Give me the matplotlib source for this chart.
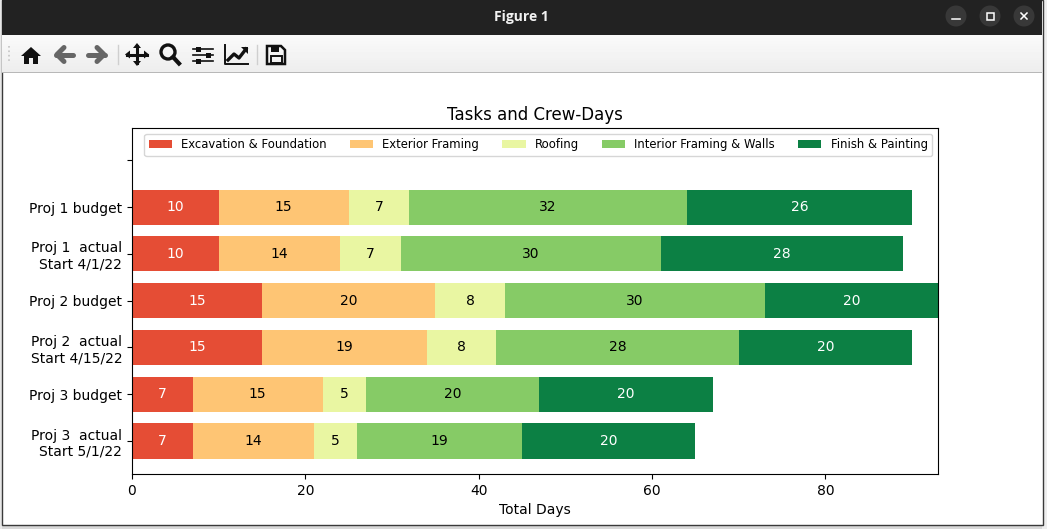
import matplotlib
matplotlib.use("Agg")
import matplotlib.pyplot as plt
from matplotlib.patches import Rectangle, Circle, Polygon
import numpy as np

labels = ["", "Proj 1 budget", "Proj 1  actual\nStart 4/1/22", "Proj 2 budget",
          "Proj 2  actual\nStart 4/15/22", "Proj 3 budget", "Proj 3  actual\nStart 5/1/22"]
excavation = [0, 10, 10, 15, 15, 7, 7]
framing = [0, 15, 14, 20, 19, 15, 14]
roofing = [0, 7, 7, 8, 8, 5, 5]
interior = [0, 32, 30, 30, 28, 20, 19]
finish = [0, 26, 28, 20, 20, 20, 20]
series_names = ["Excavation & Foundation", "Exterior Framing", "Roofing",
                "Interior Framing & Walls", "Finish & Painting"]
series_values = [excavation, framing, roofing, interior, finish]
colors = ["#e54d35", "#fec574", "#e9f6a2", "#86cb66", "#0c8044"]
text_colors = ["white", "black", "black", "black", "white"]

W, H = 1047, 529
fig = plt.figure(figsize=(W / 100, H / 100), dpi=100, facecolor="white")

# window chrome, in pixel coordinates
c = fig.add_axes([0, 0, 1, 1], zorder=-1)
c.set_xlim(0, W); c.set_ylim(H, 0); c.axis("off")
c.add_patch(Rectangle((0, 524), W, 5, fc="#d8d8d8", ec="none"))
c.add_patch(Rectangle((1042, 0), 5, H, fc="#eeeeee", ec="none"))
c.add_patch(Rectangle((0, 0), 1.5, H, fc="#e8e8e8", ec="none"))
c.add_patch(Rectangle((1.5, 0), 1041, 524.5, fc="white", ec="#3a3a3a", lw=1))
c.imshow(np.linspace(0.98, 0.93, 37).reshape(-1, 1), cmap="gray", vmin=0, vmax=1,
         extent=(2, 1042, 72, 35), aspect="auto", zorder=1)
c.set_xlim(0, W); c.set_ylim(H, 0)
c.add_patch(Rectangle((2, 71.5), 1040, 1.2, fc="#b8b8b8", ec="none", zorder=2))
c.add_patch(Rectangle((2, 0), 1040, 35, fc="#222222", ec="none", zorder=2))
c.text(521, 17.5, "Figure 1", color="#f2f2f2", fontsize=10, fontweight="bold",
       family="Open Sans", ha="center", va="center", zorder=3)
for cx in (956, 990, 1024):
    c.add_patch(Circle((cx, 16), 10.5, fc="#383838", ec="none", zorder=3))
c.plot([952, 960], [19, 19], color="white", lw=1.1, zorder=4)
c.add_patch(Rectangle((986.5, 12.5), 7, 7, fc="none", ec="white", lw=1.1, zorder=4))
c.plot([1021, 1027], [13, 19], color="white", lw=1.1, zorder=4)
c.plot([1021, 1027], [19, 13], color="white", lw=1.1, zorder=4)

# toolbar icons
K = "#111111"; G = "#666666"
kw = dict(zorder=4)
c.add_patch(Polygon([(21, 56), (31, 47), (41, 56), (38, 56), (38, 64), (33, 64), (33, 58),
                     (29, 58), (29, 64), (24, 64), (24, 56)], fc=K, ec="none", **kw))
c.plot([56, 73], [54.5, 54.5], color=G, lw=3.6, solid_capstyle="round", **kw)
c.plot([64, 57, 64], [47.5, 54.5, 61.5], color=G, lw=3.6, solid_capstyle="round", **kw)
c.plot([88, 105], [54.5, 54.5], color=G, lw=3.6, solid_capstyle="round", **kw)
c.plot([97, 104, 97], [47.5, 54.5, 61.5], color=G, lw=3.6, solid_capstyle="round", **kw)
c.plot([117.5, 117.5], [45, 64], color="#cfcfcf", lw=1, **kw)
c.plot([137, 137], [46, 63], color=K, lw=2.2, **kw)
c.plot([127, 147], [54.5, 54.5], color=K, lw=2.2, **kw)
for p in ([(137, 43), (133, 48), (141, 48)], [(137, 66), (133, 61), (141, 61)],
          [(125, 54.5), (130, 50.5), (130, 58.5)], [(149, 54.5), (144, 50.5), (144, 58.5)]):
    c.add_patch(Polygon(p, fc=K, ec="none", **kw))
c.add_patch(Circle((168, 52), 7, fc="none", ec=K, lw=2.4, **kw))
c.plot([173, 179], [57, 63.5], color=K, lw=3, **kw)
for yy, x in ((49, 198), (55, 208), (61, 198)):
    c.plot([193, 213], [yy, yy], color=K, lw=1.2, **kw)
    c.add_patch(Rectangle((x - 2.5, yy - 2.5), 5, 5, fc=K, ec="none", **kw))
c.plot([225, 225, 248], [45, 63.5, 63.5], color=K, lw=1.4, **kw)
c.plot([228, 234, 239, 246], [60, 54, 58, 49], color=K, lw=2.4, **kw)
c.add_patch(Polygon([(241, 47), (248, 47), (248, 54)], fc=K, ec="none", **kw))
c.plot([256.5, 256.5], [45, 64], color="#cfcfcf", lw=1, **kw)
c.add_patch(Polygon([(267, 46), (281, 46), (285, 50), (285, 64), (267, 64)], fc="none", ec=K, lw=1.8, **kw))
c.add_patch(Rectangle((271, 46), 8, 5.5, fc=K, ec="none", **kw))
c.add_patch(Rectangle((270.5, 56), 11, 7, fc="none", ec=K, lw=1.4, **kw))
c.plot([8.5, 8.5], [46, 62], color="#c4c4c4", lw=1.2, ls=":", **kw)

# chart
ax = fig.add_axes([132 / W, 1 - 474 / H, 806 / W, 346 / H])
y = np.arange(len(labels))
left = np.zeros(len(labels))
for name, vals, col, tc in zip(series_names, series_values, colors, text_colors):
    vals = np.array(vals)
    bars = ax.barh(y, vals, left=left, height=0.75, color=col, label=name)
    ax.bar_label(bars, labels=[str(v) if v else "" for v in vals], label_type="center", color=tc)
    left = left + vals
ax.set_yticks(y, labels)
ax.set_xlim(0, 93)
ax.set_ylim(6.705, -0.69)
ax.set_xlabel("Total Days")
ax.set_title("Tasks and Crew-Days")
ax.legend(ncol=5, fontsize="small", loc="upper right")

fig.savefig("out.png", dpi=100, facecolor="white")
